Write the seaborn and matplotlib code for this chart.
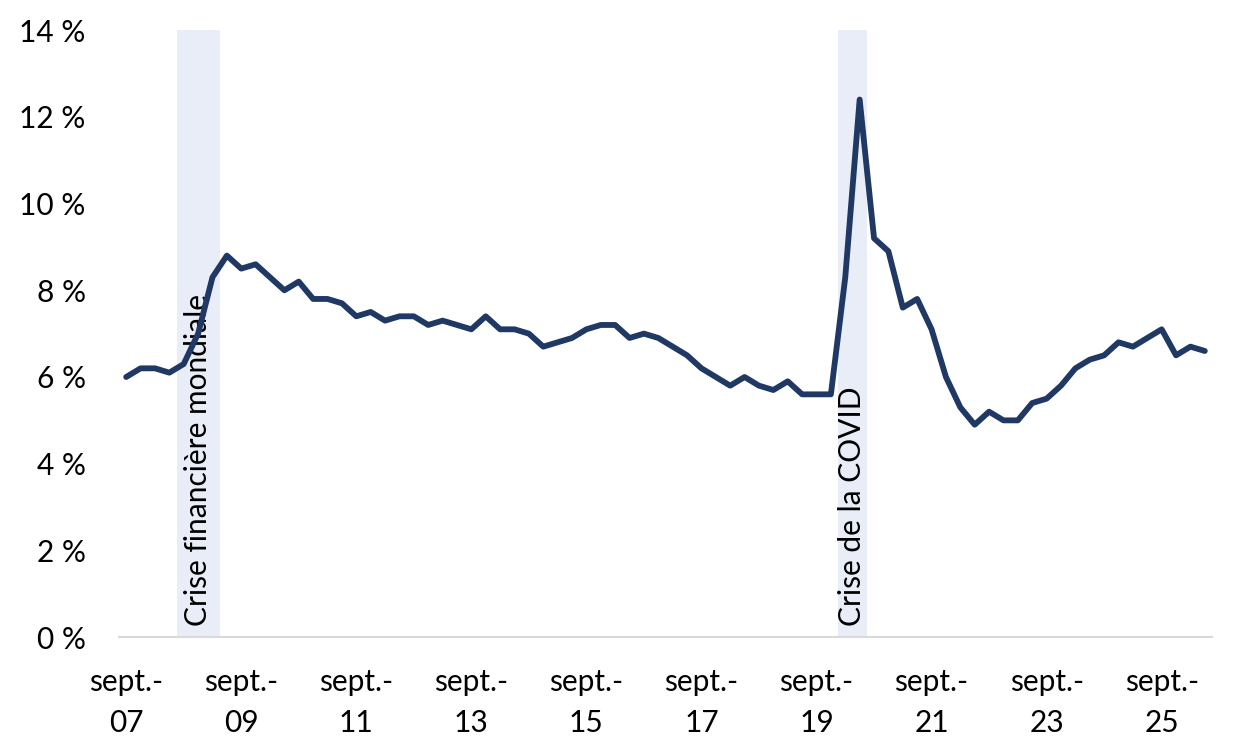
import matplotlib.pyplot as plt
import numpy as np
import pandas as pd
import seaborn as sns

# quarterly series, sept. 2007 onward (percent)
rate = [
    6.0, 6.2, 6.2, 6.1, 6.3, 7.0, 8.3, 8.8, 8.5, 8.6,
    8.3, 8.0, 8.2, 7.8, 7.8, 7.7, 7.4, 7.5, 7.3, 7.4,
    7.4, 7.2, 7.3, 7.2, 7.1, 7.4, 7.1, 7.1, 7.0, 6.7,
    6.8, 6.9, 7.1, 7.2, 7.2, 6.9, 7.0, 6.9, 6.7, 6.5,
    6.2, 6.0, 5.8, 6.0, 5.8, 5.7, 5.9, 5.6, 5.6, 5.6,
    8.3, 12.4, 9.2, 8.9, 7.6, 7.8, 7.1, 6.0, 5.3, 4.9,
    5.2, 5.0, 5.0, 5.4, 5.5, 5.8, 6.2, 6.4, 6.5, 6.8,
    6.7, 6.9, 7.1, 6.5, 6.7, 6.6,
]
years = ["07", "09", "11", "13", "15", "17", "19", "21", "23", "25"]
tick_labels = [f"sept.-\n{y}" for y in years]

# shaded crisis periods (first and last quarter index)
crises = [(4, 6, "Crise financière mondiale"), (50, 51, "Crise de la COVID")]

df = pd.DataFrame({"q": np.arange(len(rate)), "rate": rate})

sns.set_style("white")
plt.rcParams["font.family"] = ["Lato", "DejaVu Sans"]
fs = 21.5

fig = plt.figure(figsize=(12.5, 7.54), dpi=100)
ax = fig.add_axes([0.0952, 0.155, 0.8744, 0.805])

for start, end, label in crises:
    ax.axvspan(start - 0.5, end + 0.5, color="#E9EDF8", lw=0, zorder=0)
    ax.text((start + end) / 2, 0.25, label, rotation=90, ha="center", va="bottom",
            fontsize=fs, color="black", zorder=1)

sns.lineplot(data=df, x="q", y="rate", ax=ax, color="#203864", linewidth=4.2, zorder=3)

ax.set_xlim(-0.5, len(rate) - 0.5)
ax.set_ylim(0, 14)
ax.set_yticks(range(0, 15, 2))
ax.set_yticklabels([f"{v} %" for v in range(0, 15, 2)])
ax.set_xticks(np.arange(0, len(rate), 8))
ax.set_xticklabels(tick_labels, linespacing=1.6)
ax.set_xticks(np.arange(-0.5, len(rate), 8), minor=True)
ax.tick_params(axis="x", which="major", length=0, pad=22, labelsize=fs, labelcolor="black")
ax.tick_params(axis="x", which="minor", length=8, width=1.5, color="#D9D9D9", direction="out")
ax.tick_params(axis="y", length=0, pad=24, labelsize=fs, labelcolor="black")
ax.set_xlabel("")
ax.set_ylabel("")

for side in ["top", "right", "left"]:
    ax.spines[side].set_visible(False)
ax.spines["bottom"].set_color("#D9D9D9")
ax.spines["bottom"].set_linewidth(1.5)

fig.savefig("out.png", dpi=100)
